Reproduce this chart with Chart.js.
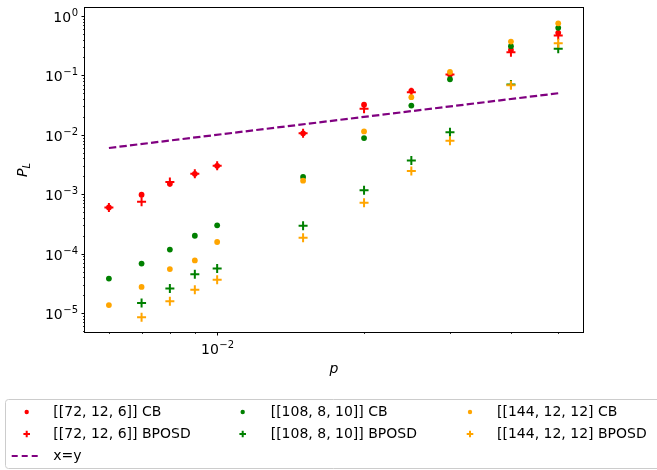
<!DOCTYPE html>
<html><head><meta charset="utf-8">
<script src="https://cdn.jsdelivr.net/npm/chart.js@4.4.0/dist/chart.umd.min.js"></script>
<style>html,body{margin:0;padding:0;background:#fff;}#wrap{width:657px;height:470px;position:relative;}</style>
</head><body><div id="wrap"><canvas id="c" width="657" height="470"></canvas></div>
<script>
// ---- data ----
const pValues  = [0.006, 0.007, 0.008, 0.009, 0.01, 0.015, 0.02, 0.025, 0.03, 0.04, 0.05];
const cb72     = [6.0e-4, 9.8e-4, 1.5e-3, 2.2e-3, 3.0e-3, 1.06e-2, 3.2e-2, 5.5e-2, 1.03e-1, 2.68e-1, 5.2e-1];
const bposd72  = [6.0e-4, 7.5e-4, 1.6e-3, 2.2e-3, 3.0e-3, 1.06e-2, 2.75e-2, 5.2e-2, 1.03e-1, 2.45e-1, 4.7e-1];
const cb108    = [3.8e-5, 6.8e-5, 1.17e-4, 2.0e-4, 3.0e-4, 1.95e-3, 8.8e-3, 3.1e-2, 8.6e-2, 3.1e-1, 6.3e-1];
const bposd108 = [null, 1.47e-5, 2.6e-5, 4.5e-5, 5.6e-5, 2.95e-4, 1.17e-3, 3.7e-3, 1.1e-2, 7.0e-2, 2.8e-1];
const cb144    = [1.36e-5, 2.75e-5, 5.5e-5, 7.7e-5, 1.57e-4, 1.69e-3, 1.14e-2, 4.3e-2, 1.14e-1, 3.7e-1, 7.5e-1];
const bposd144 = [null, 8.5e-6, 1.58e-5, 2.46e-5, 3.63e-5, 1.85e-4, 7.2e-4, 2.46e-3, 7.9e-3, 6.8e-2, 3.47e-1];
const refLineX = [0.006, 0.05];
const seriesLabels = ['[[72, 12, 6]] CB', '[[72, 12, 6]] BPOSD', 'x=y', '[[108, 8, 10]] CB', '[[108, 8, 10]] BPOSD', '[[144, 12, 12] CB', '[[144, 12, 12] BPOSD'];
const xTicks = [0.006, 0.007, 0.008, 0.009, 0.01, 0.02, 0.03, 0.04, 0.05];
const xMajor = [0.01];
const yDecades = [-5, -4, -3, -2, -1, 0];
const xLabel = 'p';
const yLabelMain = 'P', yLabelSub = 'L';

// ---- helpers ----
const isPow10 = v => { const l = Math.log10(v); return Math.abs(l - Math.round(l)) < 1e-9; };
const expOf = v => Math.round(Math.log10(v));
const yTicks = [];
for (let e = -6; e <= 0; e++) for (let m = 1; m <= 9; m++) { const v = m * Math.pow(10, e); if (v >= 4.8e-6 && v <= 1.36) yTicks.push(Number(v.toPrecision(3))); }

const pts = arr => pValues.map((p, i) => arr[i] == null ? null : {x: p, y: arr[i]}).filter(Boolean);
const dot = (label, arr, color) => ({type: 'scatter', label, data: pts(arr), pointStyle: 'circle', pointRadius: 2.9, pointHoverRadius: 2.9, backgroundColor: color, borderColor: color, borderWidth: 0, _mk: 'dot'});
const plus = (label, arr, color) => ({type: 'scatter', label, data: pts(arr), pointStyle: 'cross', pointRadius: 4.5, pointHoverRadius: 4.5, backgroundColor: color, borderColor: color, borderWidth: 2, _mk: 'plus'});

const datasets = [
  dot(seriesLabels[0], cb72, '#ff0000'),
  plus(seriesLabels[1], bposd72, '#ff0000'),
  {type: 'line', label: seriesLabels[2], data: refLineX.map(v => ({x: v, y: v})), borderColor: '#800080', borderWidth: 2.2, borderDash: [7.4, 3.2], pointRadius: 0, fill: false, _mk: 'line'},
  dot(seriesLabels[3], cb108, '#008000'),
  plus(seriesLabels[4], bposd108, '#008000'),
  dot(seriesLabels[5], cb144, '#ffa500'),
  plus(seriesLabels[6], bposd144, '#ffa500'),
];
datasets.forEach((d, i) => d.order = 20 - i);

const FONT = 'DejaVu Sans';

// draw "10^e" with a real superscript; align: 'right' or 'center'
function drawPow(ctx, e, x, baseY, align) {
  const base = '10', ex = (e < 0 ? '\u2212' : '') + Math.abs(e);
  ctx.font = '14px "' + FONT + '"';
  const wb = ctx.measureText(base).width;
  ctx.font = '10px "' + FONT + '"';
  const we = ctx.measureText(ex).width;
  const w = wb + we + 0.5;
  const x0 = align === 'right' ? x - w : x - w / 2;
  ctx.textAlign = 'left'; ctx.textBaseline = 'alphabetic';
  ctx.font = '14px "' + FONT + '"';
  ctx.fillText(base, x0, baseY);
  ctx.font = '10px "' + FONT + '"';
  ctx.fillText(ex, x0 + wb + 0.5, baseY - 6);
}

const decor = {
  id: 'decor',
  afterDraw(chart) {
    const {ctx, chartArea: a, scales: {x, y}} = chart;
    ctx.save();
    // frame
    ctx.strokeStyle = '#000'; ctx.lineWidth = 1;
    ctx.strokeRect(Math.round(a.left) - 0.5, Math.round(a.top) - 0.5, Math.round(a.right - a.left) + 1, Math.round(a.bottom - a.top) + 1);
    // ticks + labels
    ctx.fillStyle = '#000';
    x.ticks.forEach(t => {
      const px = Math.round(x.getPixelForValue(t.value)) + 0.5;
      const maj = xMajor.includes(t.value);
      ctx.lineWidth = maj ? 1 : 0.8;
      ctx.beginPath(); ctx.moveTo(px, a.bottom); ctx.lineTo(px, a.bottom + (maj ? 3.5 : 2)); ctx.stroke();
      if (maj) drawPow(ctx, expOf(t.value), px, a.bottom + 22, 'center');
    });
    y.ticks.forEach(t => {
      const py = Math.round(y.getPixelForValue(t.value)) + 0.5;
      const maj = isPow10(t.value);
      ctx.lineWidth = maj ? 1 : 0.8;
      ctx.beginPath(); ctx.moveTo(a.left, py); ctx.lineTo(a.left - (maj ? 3.5 : 2), py); ctx.stroke();
      if (maj) drawPow(ctx, expOf(t.value), a.left - 7, py + 5, 'right');
    });
    // axis titles
    ctx.font = 'italic 14px "' + FONT + '"';
    ctx.textAlign = 'center'; ctx.textBaseline = 'middle';
    ctx.fillText(xLabel, (a.left + a.right) / 2, 369);
    ctx.save();
    ctx.translate(22, (a.top + a.bottom) / 2);
    ctx.rotate(-Math.PI / 2);
    ctx.textAlign = 'left'; ctx.textBaseline = 'alphabetic';
    const wP = ctx.measureText(yLabelMain).width;
    ctx.font = 'italic 10px "' + FONT + '"';
    const wL = ctx.measureText(yLabelSub).width;
    const x0 = -(wP + wL) / 2;
    ctx.font = 'italic 14px "' + FONT + '"';
    ctx.fillText(yLabelMain, x0, 5);
    ctx.font = 'italic 10px "' + FONT + '"';
    ctx.fillText(yLabelSub, x0 + wP, 8);
    ctx.restore();

    // legend
    ctx.fillStyle = 'rgba(255,255,255,0.8)';
    ctx.strokeStyle = '#cccccc'; ctx.lineWidth = 1;
    ctx.beginPath(); ctx.roundRect(5.5, 399.5, 665, 69, 3); ctx.fill(); ctx.stroke();
    const cols = [[0, 1, 2], [3, 4], [5, 6]];
    const colX = [26.7, 242.7, 470];
    const textX = [53.3, 270.7, 497];
    const rowY = [412, 434, 456];
    const ds = chart.data.datasets;
    ctx.font = '14px "' + FONT + '"';
    ctx.textAlign = 'left'; ctx.textBaseline = 'middle';
    cols.forEach((c, ci) => c.forEach((di, ri) => {
      const d = ds[di], mx = colX[ci], my = rowY[ri];
      if (d._mk === 'dot') {
        ctx.fillStyle = d.backgroundColor; ctx.beginPath(); ctx.arc(mx, my, 2.2, 0, Math.PI * 2); ctx.fill();
      } else if (d._mk === 'plus') {
        ctx.strokeStyle = d.borderColor; ctx.lineWidth = 2; ctx.beginPath();
        ctx.moveTo(mx - 3.3, my); ctx.lineTo(mx + 3.3, my); ctx.moveTo(mx, my - 3.3); ctx.lineTo(mx, my + 3.3); ctx.stroke();
      } else {
        ctx.strokeStyle = d.borderColor; ctx.lineWidth = 2; ctx.setLineDash([6, 4]);
        ctx.beginPath(); ctx.moveTo(11.7, my); ctx.lineTo(41.7, my); ctx.stroke(); ctx.setLineDash([]);
      }
      ctx.fillStyle = '#000';
      ctx.fillText(d.label, textX[ci], my);
    }));
    ctx.restore();
  }
};

new Chart(document.getElementById('c'), {
  data: {datasets},
  options: {
    responsive: false, animation: false, devicePixelRatio: 1,
    layout: {padding: {top: 8, right: 74, bottom: 0, left: 0}},
    plugins: {legend: {display: false}, tooltip: {enabled: false}},
    scales: {
      x: {
        type: 'logarithmic', min: 0.00536, max: 0.0562,
        grid: {display: false, drawTicks: false}, border: {display: false},
        ticks: {autoSkip: false, maxRotation: 0, minRotation: 0, padding: 6, color: '#000', font: {family: FONT, size: 14}, callback: () => ''},
        afterBuildTicks: s => { s.ticks = xTicks.map(v => ({value: v})); },
        afterFit: s => { s.height = 138; s.paddingLeft = 0; s.paddingRight = 0; }
      },
      y: {
        type: 'logarithmic', min: 4.8e-6, max: 1.36,
        grid: {display: false, drawTicks: false}, border: {display: false},
        ticks: {autoSkip: false, padding: 7, color: '#000', font: {family: FONT, size: 14}, callback: () => ''},
        afterBuildTicks: s => { s.ticks = yTicks.map(v => ({value: v})); },
        afterFit: s => { s.width = 85; s.paddingTop = 0; s.paddingBottom = 0; }
      }
    }
  },
  plugins: [decor]
});
</script></body></html>
